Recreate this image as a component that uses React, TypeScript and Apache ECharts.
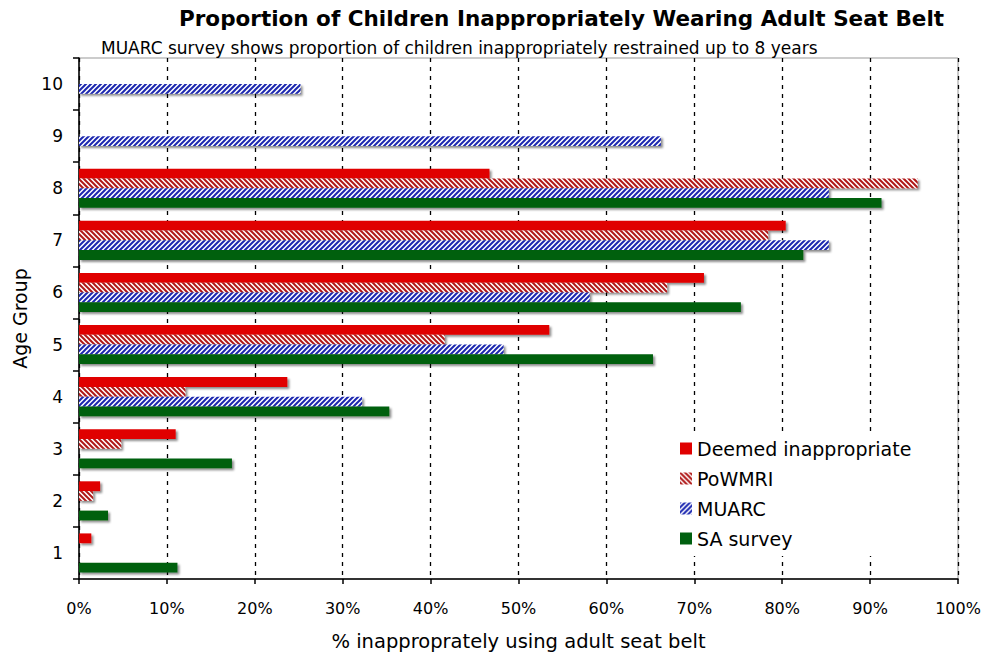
import React, { useEffect, useRef } from "react";
import * as echarts from "echarts";

const ageGroups = ["1", "2", "3", "4", "5", "6", "7", "8", "9", "10"];
const seriesNames = ["Deemed inappropriate", "PoWMRI", "MUARC", "SA survey"];
const deemed = [1.4, 2.4, 11.0, 23.7, 53.5, 71.1, 80.4, 46.7, null, null];
const powmri = [null, 1.6, 4.8, 12.1, 41.6, 66.9, 78.4, 95.4, null, null];
const muarc = [null, null, null, 32.2, 48.3, 58.1, 85.3, 85.3, 66.2, 25.2];
const saSurvey = [11.2, 3.3, 17.4, 35.3, 65.3, 75.3, 82.4, 91.3, null, null];
const xTicks = [0, 10, 20, 30, 40, 50, 60, 70, 80, 90, 100];

function makeStripes(color: string, forward: boolean): HTMLCanvasElement {
  const p = 5;
  const c = document.createElement("canvas");
  c.width = p;
  c.height = p;
  const ctx = c.getContext("2d")!;
  ctx.fillStyle = "#ffffff";
  ctx.fillRect(0, 0, p, p);
  ctx.strokeStyle = color;
  ctx.lineWidth = 2;
  ctx.lineCap = "square";
  const seg = (x1: number, y1: number, x2: number, y2: number) => {
    ctx.beginPath();
    ctx.moveTo(x1, y1);
    ctx.lineTo(x2, y2);
    ctx.stroke();
  };
  if (forward) {
    seg(0, p, p, 0);
    seg(-1, 1, 1, -1);
    seg(p - 1, p + 1, p + 1, p - 1);
  } else {
    seg(0, 0, p, p);
    seg(-1, p - 1, 1, p + 1);
    seg(p - 1, -1, p + 1, 1);
  }
  return c;
}

export default function App() {
  const ref = useRef<HTMLDivElement>(null);
  useEffect(() => {
    if (!ref.current) return;
    const chart = echarts.init(ref.current, null, { renderer: "svg" });
    const redPat = { image: makeStripes("#b01818", false), repeat: "repeat" };
    const bluePat = { image: makeStripes("#1c28b0", true), repeat: "repeat" };
    const shadow = {
      shadowBlur: 2,
      shadowOffsetX: 2,
      shadowOffsetY: 2,
      shadowColor: "rgba(0,0,0,0.45)",
    };
    const colors: any[] = ["#e00000", redPat, bluePat, "#006010"];
    const datas = [deemed, powmri, muarc, saSurvey];
    chart.setOption({
      animation: false,
      backgroundColor: "#ffffff",
      title: [
        {
          text: "Proportion of Children Inappropriately Wearing Adult Seat Belt",
          left: 174,
          top: 2,
          textStyle: {
            fontFamily: "DejaVu Sans",
            fontWeight: "bold",
            fontSize: 21.5,
            color: "#000",
          },
        },
        {
          text: "MUARC survey shows proportion of children inappropriately restrained up to 8 years",
          left: 96,
          top: 34,
          textStyle: {
            fontFamily: "DejaVu Sans",
            fontWeight: "normal",
            fontSize: 17,
            color: "#000",
          },
        },
      ],
      legend: {
        data: seriesNames,
        orient: "vertical",
        left: 672,
        top: 431,
        itemWidth: 12,
        itemHeight: 12,
        itemGap: 11,
        icon: "rect",
        backgroundColor: "#ffffff",
        padding: [8, 10, 8, 8],
        textStyle: { fontFamily: "DejaVu Sans", fontSize: 19, color: "#000" },
      },
      grid: {
        left: 79,
        right: 29,
        top: 58,
        bottom: 74,
        show: true,
        borderColor: "#999999",
        borderWidth: 1,
        backgroundColor: "#ffffff",
      },
      xAxis: {
        type: "value",
        min: 0,
        max: 100,
        interval: 10,
        name: "% inapproprately using adult seat belt",
        nameLocation: "middle",
        nameGap: 52,
        nameTextStyle: { fontFamily: "DejaVu Sans", fontSize: 19.5, color: "#000" },
        axisLine: { show: true, lineStyle: { color: "#000", width: 1.5 } },
        axisTick: { show: true, length: 5, lineStyle: { color: "#000", width: 1.5 } },
        axisLabel: {
          margin: 21,
          fontFamily: "DejaVu Sans",
          fontSize: 16,
          color: "#000",
          formatter: (v: number) => (xTicks.includes(v) ? v + "%" : ""),
        },
        splitLine: {
          show: true,
          lineStyle: { color: "#000", width: 1.3, type: [4, 5] },
        },
      },
      yAxis: {
        type: "category",
        data: ageGroups,
        name: "Age Group",
        nameLocation: "middle",
        nameRotate: 90,
        nameGap: 50,
        nameTextStyle: { fontFamily: "DejaVu Sans", fontSize: 19, color: "#000" },
        axisLine: { show: true, lineStyle: { color: "#000", width: 1.5 } },
        axisTick: { show: true, length: 6, lineStyle: { color: "#000", width: 1.5 } },
        axisLabel: {
          margin: 16,
          fontFamily: "DejaVu Sans",
          fontSize: 17,
          color: "#000",
        },
        splitLine: { show: false },
      },
      series: seriesNames.map((name, i) => ({
        name,
        type: "bar",
        data: datas[i],
        barGap: "0%",
        barCategoryGap: "25%",
        itemStyle: { color: colors[i], ...shadow },
      })),
    });
    return () => chart.dispose();
  }, []);
  return (
    <div
      ref={ref}
      style={{ position: "fixed", left: 0, top: 0, width: 987, height: 656 }}
    />
  );
}
